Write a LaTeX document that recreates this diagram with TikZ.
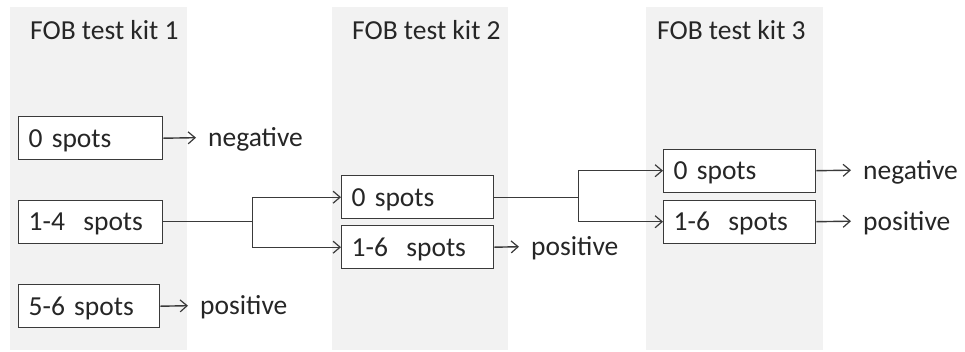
\documentclass[tikz,border=0pt]{standalone}
\usepackage{fontspec}
\setmainfont{Carlito}
\usetikzlibrary{arrows.meta}
\definecolor{panelgray}{HTML}{F2F2F2}
\definecolor{inkline}{HTML}{3A3A3A}
\definecolor{inktext}{HTML}{262626}
\tikzset{
  panel/.style={fill=panelgray, draw=none},
  spotbox/.style={draw=inkline, fill=white, line width=1.4pt, anchor=north west,
    minimum width=#1, minimum height=43pt, inner xsep=10pt, inner ysep=0pt,
    text width=#1-20pt, align=left, text height=18pt, text depth=0pt,
    font=\fontsize{27.5}{30}\selectfont, text=inktext},
  spotbox/.default=144pt,
  result/.style={inner sep=0pt, anchor=west, text height=18pt, text depth=0pt,
    font=\fontsize{27.5}{30}\selectfont, text=inktext},
  kittitle/.style={result},
  link/.style={draw=inkline, line width=1.4pt},
  flow/.style={link, -{Straight Barb[length=7pt,width=12pt,line width=1.2pt]}},
  outflow/.style={flow, shorten >=12pt},
}
\begin{document}
\begin{tikzpicture}[x=1pt,y=-1pt]
\useasboundingbox (0,0) rectangle (965,351);
\fill[white] (0,0) rectangle (965,351);

% background columns, one per kit
\fill[panel] (10,7) rectangle (187,350);
\fill[panel] (332,7) rectangle (508,350);
\fill[panel] (646,7) rectangle (823,350);

% column headings
\node[kittitle] (t1) at (30,30.5) {FOB test kit 1};
\node[kittitle] (t2) at (352,30.5) {FOB test kit 2};
\node[kittitle] (t3) at (657,30.5) {FOB test kit 3};

% kit 1
\node[spotbox] (k1a) at (18,116) {0 spots};
\node[spotbox] (k1b) at (18,199.5) {1-4\ \ spots};
\node[spotbox=141pt] (k1c) at (18,284) {5-6 spots};
\node[result] (r1a) at (208,137.5) {negative};
\node[result] (r1c) at (200,305.5) {positive};

% kit 2
\node[spotbox=152pt] (k2a) at (341,175) {0 spots};
\node[spotbox=152pt] (k2b) at (341,225) {1-6\ \ spots};
\node[result] (r2b) at (531,246.5) {positive};

% kit 3
\node[spotbox=152pt] (k3a) at (663,148.5) {0 spots};
\node[spotbox=152pt] (k3b) at (663,199.5) {1-6\ \ spots};
\node[result] (r3a) at (863,170) {negative};
\node[result] (r3b) at (863,221) {positive};

% outcomes
\draw[outflow] (k1a.east) -- (r1a.west);
\draw[outflow] (k1c.east) -- (r1c.west);
\draw[outflow] (k2b.east) -- (r2b.west);
\draw[outflow] (k3a.east) -- (r3a.west);
\draw[outflow] (k3b.east) -- (r3b.west);

% kit 1 (1-4 spots) splits into kit 2
\coordinate (fork1) at ([xshift=89pt]k1b.east);
\draw[link] (k1b.east) -- (fork1);
\draw[flow] (fork1) |- (k2a.west);
\draw[flow] (fork1) |- (k2b.west);

% kit 2 (0 spots) splits into kit 3
\coordinate (fork2) at ([xshift=84pt]k2a.east);
\draw[link] (k2a.east) -- (fork2);
\draw[flow] (fork2) |- (k3a.west);
\draw[flow] (fork2) |- (k3b.west);
\end{tikzpicture}
\end{document}
